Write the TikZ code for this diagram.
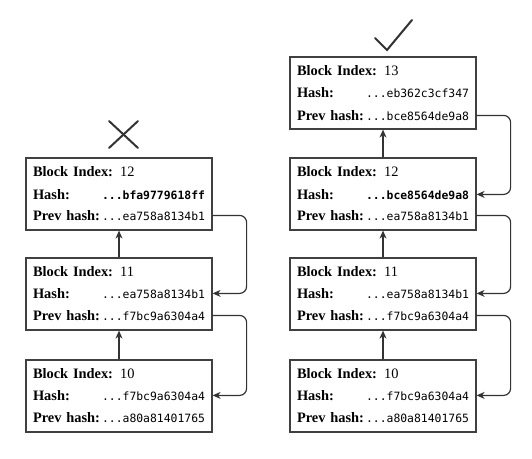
\documentclass[tikz,border=0pt]{standalone}
\usepackage{fontspec}
\setmainfont{Liberation Serif}
\setmonofont{DejaVu Sans Mono}
\usetikzlibrary{arrows.meta}

\begin{document}
\begin{tikzpicture}[
    x=1pt, y=-1pt,
    line width=1.2pt,
    draw=black!80,
    block/.style={
        rectangle,
        draw=black!75,
        line width=1.2pt,
        inner sep=0pt,
        minimum width=186pt,
        minimum height=72pt,
    },
    row/.style={
        inner sep=0pt,
        text width=172pt,
        font=\fontsize{14.4}{16}\selectfont,
    },
    link/.style={
        -{Stealth[length=8pt,width=7pt,inset=2.5pt]},
        rounded corners=7pt,
    },
    verdict/.style={
        line width=2pt,
        line cap=round,
    },
]

\useasboundingbox (0,0) rectangle (532,458);

% fork that loses
\node[block] (l12) at (119,194) {};
\node[row] (l12i) at ([yshift=-14pt]l12.north) {\textbf{Block Index:} 12};
\node[row] (l12h) at ([yshift=-37pt]l12.north) {\textbf{Hash:}\hfill{\ttfamily\bfseries\fontsize{11.4}{13}\selectfont...bfa9779618ff}};
\node[row] (l12p) at ([yshift=-58pt]l12.north) {\textbf{Prev hash:}\hfill{\ttfamily\fontsize{11.4}{13}\selectfont...ea758a8134b1}};

\node[block] (l11) at (119,294) {};
\node[row] (l11i) at ([yshift=-14pt]l11.north) {\textbf{Block Index:} 11};
\node[row] (l11h) at ([yshift=-36pt]l11.north) {\textbf{Hash:}\hfill{\ttfamily\fontsize{11.4}{13}\selectfont...ea758a8134b1}};
\node[row] (l11p) at ([yshift=-58pt]l11.north) {\textbf{Prev hash:}\hfill{\ttfamily\fontsize{11.4}{13}\selectfont...f7bc9a6304a4}};

\node[block] (l10) at (119,396) {};
\node[row] (l10i) at ([yshift=-14pt]l10.north) {\textbf{Block Index:} 10};
\node[row] (l10h) at ([yshift=-36pt]l10.north) {\textbf{Hash:}\hfill{\ttfamily\fontsize{11.4}{13}\selectfont...f7bc9a6304a4}};
\node[row] (l10p) at ([yshift=-58pt]l10.north) {\textbf{Prev hash:}\hfill{\ttfamily\fontsize{11.4}{13}\selectfont...a80a81401765}};

\draw[link] (l11.north) -- (l12.south);
\draw[link] (l10.north) -- (l11.south);
\draw[link] (l12p -| l12.east) -- ++(34,0) |- (l11h -| l11.east);
\draw[link] (l11p -| l11.east) -- ++(34,0) |- (l10h -| l10.east);

\coordinate (xa) at (109,121);
\coordinate (xb) at (138,148);
\draw[verdict] (xa) -- (xb);
\draw[verdict] (xa -| xb) -- (xb -| xa);

% fork that wins
\node[block] (r13) at (383,93) {};
\node[row] (r13i) at ([yshift=-14pt]r13.north) {\textbf{Block Index:} 13};
\node[row] (r13h) at ([yshift=-36pt]r13.north) {\textbf{Hash:}\hfill{\ttfamily\fontsize{11.4}{13}\selectfont...eb362c3cf347}};
\node[row] (r13p) at ([yshift=-59pt]r13.north) {\textbf{Prev hash:}\hfill{\ttfamily\fontsize{11.4}{13}\selectfont...bce8564de9a8}};

\node[block] (r12) at (383,194) {};
\node[row] (r12i) at ([yshift=-14pt]r12.north) {\textbf{Block Index:} 12};
\node[row] (r12h) at ([yshift=-37pt]r12.north) {\textbf{Hash:}\hfill{\ttfamily\bfseries\fontsize{11.4}{13}\selectfont...bce8564de9a8}};
\node[row] (r12p) at ([yshift=-58pt]r12.north) {\textbf{Prev hash:}\hfill{\ttfamily\fontsize{11.4}{13}\selectfont...ea758a8134b1}};

\node[block] (r11) at (383,294) {};
\node[row] (r11i) at ([yshift=-14pt]r11.north) {\textbf{Block Index:} 11};
\node[row] (r11h) at ([yshift=-36pt]r11.north) {\textbf{Hash:}\hfill{\ttfamily\fontsize{11.4}{13}\selectfont...ea758a8134b1}};
\node[row] (r11p) at ([yshift=-58pt]r11.north) {\textbf{Prev hash:}\hfill{\ttfamily\fontsize{11.4}{13}\selectfont...f7bc9a6304a4}};

\node[block] (r10) at (383,396) {};
\node[row] (r10i) at ([yshift=-14pt]r10.north) {\textbf{Block Index:} 10};
\node[row] (r10h) at ([yshift=-36pt]r10.north) {\textbf{Hash:}\hfill{\ttfamily\fontsize{11.4}{13}\selectfont...f7bc9a6304a4}};
\node[row] (r10p) at ([yshift=-58pt]r10.north) {\textbf{Prev hash:}\hfill{\ttfamily\fontsize{11.4}{13}\selectfont...a80a81401765}};

\draw[link] (r12.north) -- (r13.south);
\draw[link] (r11.north) -- (r12.south);
\draw[link] (r10.north) -- (r11.south);
\draw[link] (r13p -| r13.east) -- ++(34,0) |- (r12h -| r12.east);
\draw[link] (r12p -| r12.east) -- ++(34,0) |- (r11h -| r11.east);
\draw[link] (r11p -| r11.east) -- ++(34,0) |- (r10h -| r10.east);

\coordinate (ca) at (375,38);
\coordinate (cb) at (387,50);
\coordinate (cc) at (412,20);
\draw[verdict] (ca) -- (cb) -- (cc);

\end{tikzpicture}
\end{document}
